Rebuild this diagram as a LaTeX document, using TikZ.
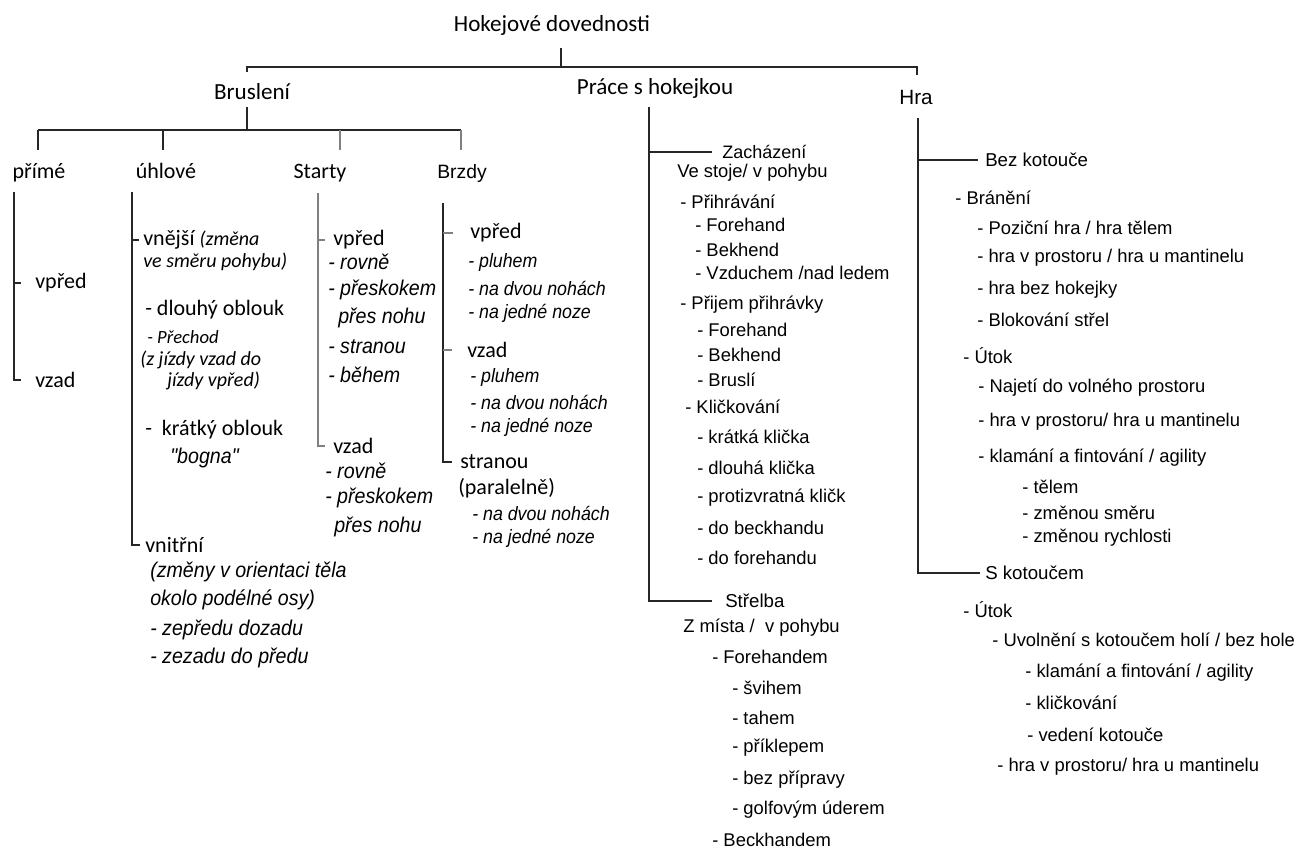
\documentclass[tikz,border=0pt]{standalone}
\usepackage{fontspec}
\setmainfont{Carlito}
\newfontfamily\arialsf{Liberation Sans}
\newfontfamily\slantsf[FakeStretch=0.92]{Liberation Sans}
\usetikzlibrary{positioning}

\tikzset{
  txt/.style={anchor=west, inner sep=0pt},
  head/.style={anchor=center, inner sep=0pt, font=\fontsize{17.3}{18}\selectfont},
  lvl/.style={anchor=base, inner sep=0pt, font=\fontsize{16.5}{17}\selectfont},
  cal/.style={txt, font=\fontsize{16.5}{17}\selectfont},
  calit/.style={txt, font=\fontsize{15}{16}\selectfont\itshape},
  ital/.style={txt, font=\slantsf\itshape\fontsize{16}{17}\selectfont},
  itsm/.style={txt, font=\slantsf\itshape\fontsize{14.5}{15}\selectfont},
  nar/.style={txt, font=\arialsf\fontsize{13.8}{14}\selectfont},
  narhd/.style={txt, font=\arialsf\fontsize{13.5}{14}\selectfont},
  link/.style={line width=0.8pt, black!85},
  faint/.style={line width=0.8pt, black!50},
}

\begin{document}
\begin{tikzpicture}[x=0.75pt, y=-0.75pt]
\useasboundingbox (0,0) rectangle (1296,852);
% top level
\node[head] (root) at (552,25) {Hokejové dovednosti};
\node[head] (brusl) at (252,92) {Bruslení};
\node[head] (prace) at (655,88) {Práce s hokejkou};
\node[anchor=center, inner sep=0pt, font=\arialsf\fontsize{15.5}{16}\selectfont] (hra) at (916,97) {Hra};
\coordinate (rtop) at (561,48);
\coordinate (rbus) at (561,67);
\coordinate (busl) at (247,67);
\coordinate (busr) at (917,67);
\draw[link] (rtop) -- (rbus);
\draw[link] (busl |- 0,72) -- (busl) -- (busr) -- (busr |- 0,75);

% skating
\node[lvl] (prime) at (39,179) {přímé};
\node[lvl] (uhl) at (166,179) {úhlové};
\node[lvl] (start) at (320,179) {Starty};
\node[anchor=base, inner sep=0pt, font=\arialsf\fontsize{14.5}{15}\selectfont] (brzd) at (462,179) {Brzdy};
\coordinate (stop) at (247,107);
\coordinate (sbus) at (247,130);
\draw[link] (stop) -- (sbus);
\draw[link] (38,130) -- (461,130);
\foreach \x in {38,163} \draw[link] (\x,130) -- (\x,150);
\foreach \x in {340,461} \draw[faint] (\x,130) -- (\x,150);

% primé
\node[cal] (pvpr) at (35,283) {vpřed};
\node[cal] (pvz) at (35,380) {vzad};
\coordinate (pl) at (14,192);
\draw[link] (pl) |- ([xshift=-10.5pt]pvz.west);
\draw[link] (pvpr -| pl) -- ([xshift=-10.5pt]pvpr.west);

% úhlové
\node[cal] (vnej) at (143,240) {vnější {\itshape\fontsize{15}{16}\selectfont(změna}};
\node[calit] (vnej2) at (143,262) {ve směru pohybu)};
\node[cal] (dlou) at (145,310) {- dlouhý oblouk};
\node[calit, font=\fontsize{14}{15}\selectfont\itshape] (prech) at (147,337) {- Přechod};
\node[calit] (prech2) at (140,360) {(z jízdy vzad do};
\node[calit] (prech3) at (167,381) {jízdy vpřed)};
\node[cal] (krat) at (145,430) {-\ \ krátký oblouk};
\node[ital] (bogna) at (170,458) {"bogna"};
\node[cal] (vnit) at (145,545) {vnitřní};
\node[ital] (vnit2) at (150,572) {(změny v orientaci těla};
\node[ital] (vnit3) at (150,600) {okolo podélné osy)};
\node[ital] (vnit4) at (150,630) {- zepředu dozadu};
\node[ital] (vnit5) at (150,658) {- zezadu do předu};
\coordinate (ul) at (132,192);
\draw[link] (ul) |- ([xshift=-3.5pt]vnit.west);
\draw[link] (vnej -| ul) -- ([xshift=-3pt]vnej.west);

% starty
\node[cal] (svpr) at (333,240) {vpřed};
\node[ital] (s1) at (328,262) {- rovně};
\node[ital] (s2) at (328,290) {- přeskokem};
\node[ital] (s3) at (338,318) {přes nohu};
\node[ital] (s4) at (328,347) {- stranou};
\node[ital] (s5) at (328,375) {- během};
\node[cal] (svz) at (333,446) {vzad};
\node[ital] (s6) at (325,471) {- rovně};
\node[ital] (s7) at (325,498) {- přeskokem};
\node[ital] (s8) at (334,527) {přes nohu};
\coordinate (sl) at (318,193);
\draw[faint] (sl) |- ([xshift=-6pt]svz.west);
\draw[faint] (svpr -| sl) -- ([xshift=-6pt]svpr.west);

% brzdy
\node[cal] (bvpr) at (470,233) {vpřed};
\node[itsm] (b1) at (468,263) {- pluhem};
\node[itsm] (b2) at (468,288) {- na dvou nohách};
\node[itsm] (b3) at (468,313) {- na jedné noze};
\node[cal] (bvz) at (467,350) {vzad};
\node[itsm] (b4) at (470,378) {- pluhem};
\node[itsm] (b5) at (470,402) {- na dvou nohách};
\node[itsm] (b6) at (470,427) {- na jedné noze};
\node[cal] (bstr) at (460,462) {stranou};
\node[cal] (bstr2) at (458,488) {(paralelně)};
\node[itsm] (b7) at (472,513) {- na dvou nohách};
\node[itsm] (b8) at (472,538) {- na jedné noze};
\coordinate (bl) at (443,203);
\draw[link] (bl) |- ([xshift=-6pt]bstr.west);
\draw[faint] (bvpr -| bl) -- ([xshift=-13pt]bvpr.west);
\draw[faint] (bvz -| bl) -- ([xshift=-11pt]bvz.west);

% práce s hokejkou
\node[narhd] (zach) at (722,152) {Zacházení};
\node[nar] (z0) at (677,173) {Ve stoje/ v pohybu};
\node[nar] (z1) at (680,202) {- Přihrávání};
\node[nar] (z2) at (695,225) {- Forehand};
\node[nar] (z3) at (695,250) {- Bekhend};
\node[nar] (z4) at (695,273) {- Vzduchem /nad ledem};
\node[nar] (z5) at (680,305) {- Přijem přihrávky};
\node[nar] (z6) at (697,330) {- Forehand};
\node[nar] (z7) at (697,355) {- Bekhend};
\node[nar] (z8) at (697,380) {- Bruslí};
\node[nar] (z9) at (685,407) {- Kličkování};
\node[nar] (z10) at (697,437) {- krátká klička};
\node[nar] (z11) at (697,468) {- dlouhá klička};
\node[nar] (z12) at (697,498) {- protizvratná kličk};
\node[nar] (z13) at (697,528) {- do beckhandu};
\node[nar] (z14) at (697,558) {- do forehandu};
\node[narhd, font=\arialsf\fontsize{14}{15}\selectfont] (strel) at (725,601) {Střelba};
\node[nar] (t0) at (683,628) {Z místa / \ v pohybu};
\node[nar] (t1) at (712,657) {- Forehandem};
\node[nar] (t2) at (732,688) {- švihem};
\node[nar] (t3) at (732,718) {- tahem};
\node[nar] (t4) at (732,748) {- příklepem};
\node[nar] (t5) at (732,780) {- bez přípravy};
\node[nar] (t6) at (732,810) {- golfovým úderem};
\node[nar] (t7) at (712,840) {- Beckhandem};
\coordinate (ml) at (649,107);
\draw[link] (ml) |- ([xshift=-9.5pt]strel.west);
\draw[link] (zach -| ml) -- ([xshift=-7.5pt]zach.west);

% hra
\node[narhd, font=\arialsf\fontsize{14}{15}\selectfont] (bezk) at (985,160) {Bez kotouče};
\node[nar] (h1) at (955,198) {- Bránění};
\node[nar] (h2) at (977,228) {- Poziční hra / hra tělem};
\node[nar] (h3) at (977,258) {- hra v prostoru / hra u mantinelu};
\node[nar] (h4) at (977,290) {- hra bez hokejky};
\node[nar] (h5) at (977,320) {- Blokování střel};
\node[nar] (h6) at (963,356) {- Útok};
\node[nar] (h7) at (978,388) {- Najetí do volného prostoru};
\node[nar] (h8) at (978,422) {- hra v prostoru/ hra u mantinelu};
\node[nar] (h9) at (978,458) {- klamání a fintování / agility};
\node[nar] (h10) at (1022,487) {- tělem};
\node[nar] (h11) at (1022,513) {- změnou směru};
\node[nar] (h12) at (1022,538) {- změnou rychlosti};
\node[narhd, font=\arialsf\fontsize{14}{15}\selectfont] (sk) at (985,573) {S kotoučem};
\node[nar] (k1) at (963,610) {- Útok};
\node[nar] (k2) at (992,640) {- Uvolnění s kotoučem holí / bez hole};
\node[nar] (k3) at (1025,673) {- klamání a fintování / agility};
\node[nar] (k4) at (1025,703) {- kličkování};
\node[nar] (k5) at (1027,735) {- vedení kotouče};
\node[nar] (k6) at (997,767) {- hra v prostoru/ hra u mantinelu};
\coordinate (hl) at (918,118);
\draw[link] (hl) |- ([xshift=-4pt]sk.west);
\draw[link] (bezk -| hl) -- ([xshift=-5pt]bezk.west);
\end{tikzpicture}
\end{document}
